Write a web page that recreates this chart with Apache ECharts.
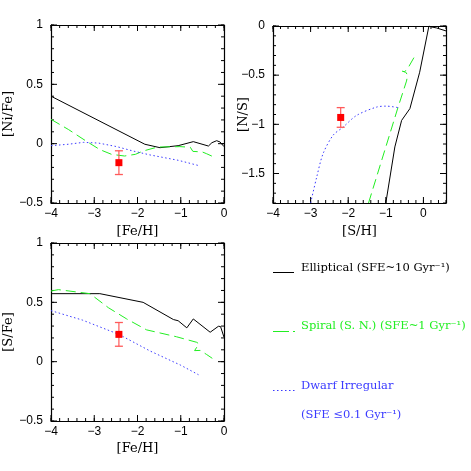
<!DOCTYPE html>
<html><head><meta charset="utf-8">
<script src="https://cdn.jsdelivr.net/npm/echarts@6/dist/echarts.min.js"></script>
<style>html,body{margin:0;padding:0;background:#fff}#c{width:471px;height:471px}</style>
</head><body><div id="c"></div>
<script>
// ---------- data ----------
const niFeElliptical = [[-4,0.40],[-1.83,-0.005],[-1.48,-0.034],[-1.06,-0.017],[-0.71,0.017],[-0.36,-0.02],[-0.28,0.008],[-0.17,0.025],[-0.09,0.014],[0,-0.025]];
const niFeSpiral = [[-4,0.205],[-3.6,0.12],[-3.18,0.02],[-2.87,-0.05],[-2.6,-0.09],[-2.3,-0.104],[-2.05,-0.09],[-1.87,-0.062],[-1.6,-0.035],[-1.48,-0.028],[-1.02,-0.025],[-0.78,-0.03],[-0.72,-0.065],[-0.5,-0.07],[-0.4,-0.085],[-0.25,-0.11]];
const niFeDwarf = [[-4,-0.017],[-3.6,-0.005],[-3.25,0.011],[-2.9,0.005],[-2.48,-0.025],[-2.1,-0.062],[-1.71,-0.095],[-1.06,-0.14],[-0.58,-0.185]];
const niFeObs = [-2.43,-0.16,-0.26,-0.06];   // x, y, low, high

const nSElliptical = [[-1.0,-1.8],[-0.76,-1.23],[-0.58,-0.96],[-0.36,-0.84],[-0.1,-0.47],[0.146,0.0],[0.18,0.02],[0.22,-0.01],[0.35,-0.02],[0.6,-0.05]];
const nSSpiral = [[-1.46,-1.8],[-0.67,-0.82],[-0.45,-0.56],[-0.42,-0.5],[-0.47,-0.47],[-0.56,-0.46],[-0.5,-0.465],[-0.4,-0.42],[-0.22,-0.3]];
const nSDwarf = [[-3.0,-1.8],[-2.84,-1.54],[-2.67,-1.30],[-2.40,-1.11],[-2.14,-1.03],[-1.78,-0.91],[-1.25,-0.825],[-0.98,-0.815],[-0.67,-0.83]];
const nSObs = [-2.2,-0.93,-1.03,-0.83];

const sFeElliptical = [[-4,0.573],[-2.87,0.573],[-1.87,0.50],[-1.17,0.355],[-1.06,0.345],[-0.86,0.285],[-0.71,0.36],[-0.32,0.248],[-0.13,0.298],[-0.08,0.296],[0,0.206]];
const sFeSpiral = [[-4,0.595],[-3.83,0.607],[-3.1,0.573],[-2.67,0.454],[-2.25,0.36],[-1.79,0.268],[-1.1,0.21],[-0.63,0.163],[-0.58,0.15],[-0.68,0.093],[-0.55,0.095],[-0.4,0.06],[-0.27,0.028]];
const sFeDwarf = [[-4,0.43],[-3.27,0.35],[-2.43,0.23],[-1.71,0.09],[-1.0,-0.03],[-0.59,-0.11]];
const sFeObs = [-2.43,0.23,0.13,0.33];

// tick labels / major tick values
const xTicksFe = [-4,-3,-2,-1,0];
const yTicksRatio = [-0.5,0,0.5,1];
const yTicksNS = [-1.5,-1,-0.5,0];

const legendNames = ['Elliptical (SFE~10 Gyr\u207B\u00B9)','Spiral (S. N.) (SFE~1 Gyr\u207B\u00B9)','Dwarf Irregular','(SFE \u22640.1 Gyr\u207B\u00B9)'];

// ---------- styles ----------
const BLACK = '#000000', GREEN = '#22ee22', BLUE = '#3a3aff', RED = '#ff0000', RED_ERR = '#ff5a5a';
const MAJ = 6, MIN = 3;
const minus = v => String(Math.round(v*100)/100).replace('-', '\u2212');
const labelCfg = (margin, extra) => Object.assign({show:true, margin, formatter:minus,
  fontFamily:'Liberation Sans', fontSize:12, color:'#000', hideOverlap:false}, extra||{});
const nameFont = () => ({fontFamily:'DejaVu Serif', fontSize:13, color:'#000'});

const grids = [
  {left:51, top:25, width:173, height:178},
  {left:273, top:26, width:173, height:177},
  {left:51, top:243, width:173, height:178}
];

const xAxes = [], yAxes = [];
function addX(a){ xAxes.push(a); return xAxes.length-1; }
function addY(a){ yAxes.push(a); return yAxes.length-1; }

function axis(gi, pos, min, max, o){
  return Object.assign({
    gridIndex:gi, type:'value', position:pos, min, max,
    axisLine:{show:true, onZero:false, lineStyle:{color:'#000', width:1.2}},
    axisTick:{show:false},
    splitLine:{show:false},
    axisLabel:{show:false},
    nameMoveOverlap:false
  }, o);
}

function panel(gi, xr, yr, xName, yName, xGap, yGap, xLab, yLab){
  const xi = addX(axis(gi,'bottom',xr[0],xr[1],Object.assign({
    name:xName, nameLocation:'middle', nameGap:xGap, nameTextStyle:nameFont()}, xLab)));
  addX(axis(gi,'top',xr[0],xr[1],{interval:1}));
  const yi = addY(axis(gi,'left',yr[0],yr[1],Object.assign({
    name:yName, nameLocation:'middle', nameGap:yGap, nameTextStyle:nameFont()}, yLab)));
  addY(axis(gi,'right',yr[0],yr[1],{interval:0.5}));
  return [xi, yi];
}
const [x0, y0] = panel(0, [-4,0], [-0.5,1], '[Fe/H]', '[Ni/Fe]', 22, 36,
  {interval:1, axisLabel:labelCfg(5)}, {interval:0.5, axisLabel:labelCfg(8)});
const [x1, y1] = panel(1, [-4,0.6], [-1.8,0], '[S/H]', '[N/S]', 22, 23,
  {interval:1, axisLabel:labelCfg(5,{showMinLabel:true, showMaxLabel:false})},
  {axisLabel:labelCfg(8,{customValues:yTicksNS})});
const [x2, y2] = panel(2, [-4,0], [-0.5,1], '[Fe/H]', '[S/Fe]', 21, 36,
  {interval:1, axisLabel:labelCfg(5)}, {interval:0.5, axisLabel:labelCfg(8)});

// ---------- inward ticks on all four sides, placed through the axes' scales ----------
function multiples(lo, hi, step){
  const out = [];
  for (let k = Math.ceil(lo/step - 1e-9); k*step <= hi + 1e-9; k++) out.push(Math.round(k*step*1000)/1000);
  return out;
}
function tickSeries(xi, yi, xr, yr, xMajor, yMajor, xStep, yStep){
  const data = [];
  multiples(xr[0], xr[1], xStep).forEach(v => data.push([v, yr[0], 0, MIN]));
  multiples(yr[0], yr[1], yStep).forEach(v => data.push([xr[0], v, 1, MIN]));
  xMajor.forEach(v => data.push([v, yr[0], 0, MAJ]));
  yMajor.forEach(v => data.push([xr[0], v, 1, MAJ]));
  return {type:'custom', xAxisIndex:xi, yAxisIndex:yi, data, animation:false, silent:true,
    encode:{x:0, y:1}, z:1,
    renderItem:(params, api)=>{
      const kind = api.value(2), len = api.value(3);
      const st = {stroke:'#000', lineWidth:1};
      let a, b, c, d;
      if (kind === 0) {
        a = api.coord([api.value(0), yr[0]]); b = api.coord([api.value(0), yr[1]]);
        return {type:'group', children:[
          {type:'line', shape:{x1:a[0],y1:a[1],x2:a[0],y2:a[1]-len}, style:st},
          {type:'line', shape:{x1:b[0],y1:b[1],x2:b[0],y2:b[1]+len}, style:st}]};
      }
      c = api.coord([xr[0], api.value(1)]); d = api.coord([xr[1], api.value(1)]);
      return {type:'group', children:[
        {type:'line', shape:{x1:c[0],y1:c[1],x2:c[0]+len,y2:c[1]}, style:st},
        {type:'line', shape:{x1:d[0],y1:d[1],x2:d[0]-len,y2:d[1]}, style:st}]};
    }};
}

// ---------- series ----------
function line(xi, yi, data, color, type){
  return {type:'line', xAxisIndex:xi, yAxisIndex:yi, data, showSymbol:false, symbol:'none',
    animation:false, lineStyle:{color, width:1, type}};
}
function obs(xi, yi, o){
  return [
    {type:'line', xAxisIndex:xi, yAxisIndex:yi, data:[[o[0],o[2]],[o[0],o[3]]],
     symbol:'rect', symbolSize:[8,1.3], showSymbol:true, showAllSymbol:true, animation:false,
     itemStyle:{color:RED_ERR}, lineStyle:{color:RED_ERR, width:1.2}},
    {type:'line', xAxisIndex:xi, yAxisIndex:yi, data:[[o[0],o[1]]],
     symbol:'rect', symbolSize:7, showSymbol:true, showAllSymbol:true, animation:false,
     itemStyle:{color:RED}, lineStyle:{width:0}}
  ];
}
const DASH = [10,5], DOT = [1.5,2.5];
const series = [
  tickSeries(x0,y0,[-4,0],[-0.5,1],xTicksFe,yTicksRatio,0.2,0.1),
  tickSeries(x1,y1,[-4,0.6],[-1.8,0],xTicksFe,yTicksNS,0.2,0.1),
  tickSeries(x2,y2,[-4,0],[-0.5,1],xTicksFe,yTicksRatio,0.2,0.1),
  line(x0,y0,niFeElliptical,BLACK,'solid'),
  line(x0,y0,niFeSpiral,GREEN,DASH),
  line(x0,y0,niFeDwarf,BLUE,DOT),
  ...obs(x0,y0,niFeObs),
  line(x1,y1,nSElliptical,BLACK,'solid'),
  line(x1,y1,nSSpiral,GREEN,DASH),
  Object.assign(line(x1,y1,nSDwarf,BLUE,DOT),{smooth:0.3}),
  ...obs(x1,y1,nSObs),
  line(x2,y2,sFeElliptical,BLACK,'solid'),
  line(x2,y2,sFeSpiral,GREEN,DASH),
  line(x2,y2,sFeDwarf,BLUE,DOT),
  ...obs(x2,y2,sFeObs)
];

// ---------- legend (drawn text) ----------
const LFONT = '11.5px "DejaVu Serif"';
const graphic = [
  {type:'line', shape:{x1:273,y1:272.5,x2:294,y2:272.5}, style:{stroke:BLACK,lineWidth:1}},
  {type:'text', x:301, y:268, style:{text:legendNames[0], fill:BLACK, font:LFONT, align:'left', verticalAlign:'middle'}},
  {type:'line', shape:{x1:273,y1:331.5,x2:295,y2:331.5}, style:{stroke:GREEN,lineWidth:1.2,lineDash:[16,4]}},
  {type:'text', x:301, y:326, style:{text:legendNames[1], fill:GREEN, font:LFONT, align:'left', verticalAlign:'middle'}},
  {type:'line', shape:{x1:273,y1:390.5,x2:295,y2:390.5}, style:{stroke:BLUE,lineWidth:1.2,lineDash:[1.5,2.5]}},
  {type:'text', x:301, y:386, style:{text:legendNames[2], fill:BLUE, font:LFONT, align:'left', verticalAlign:'middle'}},
  {type:'text', x:301, y:415, style:{text:legendNames[3], fill:BLUE, font:LFONT, align:'left', verticalAlign:'middle'}}
];

const chart = echarts.init(document.getElementById('c'));
chart.setOption({
  animation:false,
  grid:grids,
  xAxis:xAxes,
  yAxis:yAxes,
  series,
  graphic
});
</script>
</body></html>
